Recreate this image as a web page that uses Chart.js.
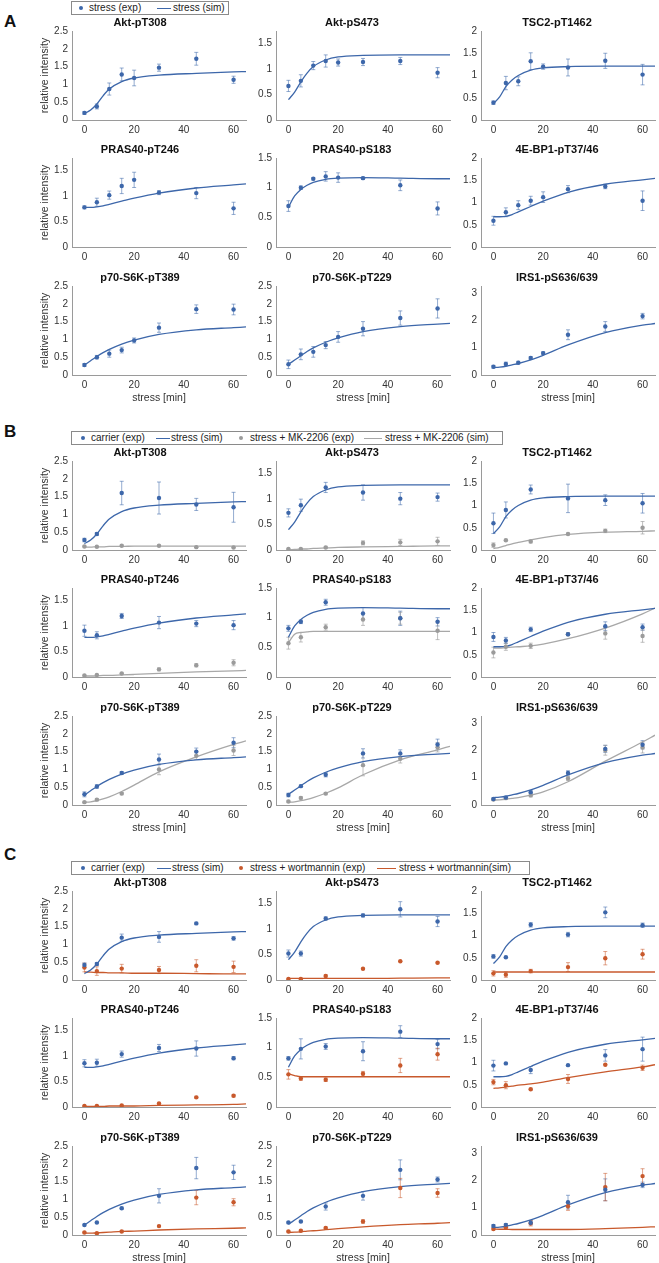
<!DOCTYPE html>
<html>
<head>
<meta charset="utf-8">
<script src="https://cdn.jsdelivr.net/npm/chart.js@4.4.1/dist/chart.umd.min.js"></script>
<style>
  body { margin: 0; background: #fff; width: 659px; height: 1263px; position: relative; overflow: hidden;
         font-family: "Liberation Sans", Arial, sans-serif; }
  .letter { position: absolute; left: 4px; font-weight: bold; font-size: 17px; line-height: 18px; color: #111; }
  .legend { position: absolute; left: 71px; height: 14px; border: 1px solid #8a8a8a; box-sizing: border-box;
            font-size: 10px; color: #222; background: #fff; }
  .legend span { position: absolute; white-space: nowrap; }
  .legend .txt { top: 0; line-height: 12px; }
  .legend .dot { top: 4px; width: 4px; height: 4px; border-radius: 50%; }
  .legend .ln { top: 6px; height: 0; border-top: 1.3px solid; }
</style>
</head>
<body>
<div class="letter" style="top:13px">A</div>
<div class="letter" style="top:423px">B</div>
<div class="letter" style="top:846px">C</div>
<script>
// time points (min)
const tExpA = [0, 5, 10, 15, 20, 30, 45, 60];
const tExpBC = [0, 5, 15, 30, 45, 60];
const tSim = [0, 2.5, 5, 7.5, 10, 15, 20, 30, 45, 60, 65];

const proteins = ['Akt-pT308', 'Akt-pS473', 'TSC2-pT1462', 'PRAS40-pT246', 'PRAS40-pS183',
                  '4E-BP1-pT37/46', 'p70-S6K-pT389', 'p70-S6K-pT229', 'IRS1-pS636/639'];
const yMax = [2.5, 1.75, 2, 1.75, 1.5, 2, 2.5, 2.5, 3.25];

// A: stress only
const stressExpA = [
  [0.2, 0.38, 0.87, 1.28, 1.18, 1.47, 1.72, 1.13],
  [0.67, 0.77, 1.07, 1.16, 1.13, 1.14, 1.16, 0.93],
  [0.39, 0.83, 0.87, 1.32, 1.2, 1.18, 1.33, 1.02],
  [0.78, 0.88, 1.02, 1.2, 1.32, 1.07, 1.06, 0.76],
  [0.69, 1.0, 1.15, 1.19, 1.17, 1.16, 1.04, 0.65],
  [0.59, 0.78, 0.94, 1.04, 1.12, 1.3, 1.36, 1.04],
  [0.28, 0.5, 0.6, 0.7, 0.97, 1.33, 1.85, 1.84],
  [0.3, 0.58, 0.65, 0.84, 1.07, 1.3, 1.6, 1.87],
  [0.3, 0.4, 0.45, 0.62, 0.8, 1.47, 1.77, 2.15]
];
const stressErrA = [
  [0.04, 0.07, 0.17, 0.18, 0.22, 0.1, 0.18, 0.1],
  [0.11, 0.12, 0.08, 0.12, 0.07, 0.07, 0.07, 0.1],
  [0.04, 0.15, 0.1, 0.19, 0.06, 0.19, 0.17, 0.23],
  [0.03, 0.08, 0.08, 0.15, 0.15, 0.04, 0.11, 0.12],
  [0.09, 0.03, 0.02, 0.08, 0.08, 0.02, 0.09, 0.11],
  [0.1, 0.1, 0.1, 0.1, 0.12, 0.08, 0.05, 0.22],
  [0.04, 0.05, 0.1, 0.08, 0.07, 0.13, 0.12, 0.15],
  [0.12, 0.15, 0.15, 0.1, 0.15, 0.2, 0.2, 0.27],
  [0.05, 0.07, 0.05, 0.05, 0.05, 0.18, 0.18, 0.1]
];
// simulated stress response (same model curve in A, B, C)
const simStress = [
  [0.18, 0.28, 0.45, 0.68, 0.87, 1.08, 1.18, 1.26, 1.31, 1.35, 1.36],
  [0.4, 0.55, 0.75, 0.92, 1.05, 1.18, 1.24, 1.27, 1.28, 1.28, 1.28],
  [0.37, 0.52, 0.75, 0.9, 1.0, 1.12, 1.17, 1.2, 1.21, 1.21, 1.21],
  [0.78, 0.78, 0.79, 0.81, 0.84, 0.9, 0.96, 1.06, 1.16, 1.22, 1.24],
  [0.67, 0.86, 0.97, 1.04, 1.09, 1.14, 1.16, 1.17, 1.16, 1.15, 1.15],
  [0.68, 0.68, 0.69, 0.73, 0.79, 0.91, 1.03, 1.23, 1.41, 1.51, 1.54],
  [0.28, 0.4, 0.52, 0.63, 0.72, 0.87, 0.98, 1.14, 1.27, 1.33, 1.35],
  [0.3, 0.42, 0.54, 0.66, 0.76, 0.92, 1.04, 1.22, 1.36, 1.43, 1.45],
  [0.27, 0.29, 0.32, 0.37, 0.42, 0.55, 0.72, 1.1, 1.55, 1.82, 1.88]
];

// B: carrier vs MK-2206
const carrierExpB = [
  [0.28, 0.45, 1.6, 1.46, 1.28, 1.2],
  [0.73, 0.88, 1.23, 1.13, 1.01, 1.04],
  [0.6, 0.9, 1.36, 1.16, 1.12, 1.05],
  [0.91, 0.82, 1.2, 1.07, 1.05, 1.02],
  [0.82, 0.93, 1.26, 1.07, 0.99, 0.93],
  [0.9, 0.82, 1.07, 0.96, 1.14, 1.12],
  [0.3, 0.52, 0.9, 1.28, 1.5, 1.75],
  [0.28, 0.53, 0.85, 1.45, 1.45, 1.7],
  [0.22, 0.27, 0.47, 1.17, 2.05, 2.2]
];
const carrierErrB = [
  [0.05, 0.04, 0.33, 0.45, 0.17, 0.42],
  [0.08, 0.12, 0.1, 0.15, 0.12, 0.08],
  [0.23, 0.18, 0.1, 0.32, 0.12, 0.22],
  [0.11, 0.07, 0.05, 0.12, 0.06, 0.09],
  [0.05, 0.03, 0.05, 0.1, 0.12, 0.07],
  [0.1, 0.07, 0.05, 0.03, 0.1, 0.07],
  [0.07, 0.05, 0.04, 0.15, 0.1, 0.14],
  [0.05, 0.03, 0.06, 0.13, 0.1, 0.15],
  [0.04, 0.05, 0.05, 0.08, 0.13, 0.15]
];
const mkExpB = [
  [0.1, 0.09, 0.12, 0.12, 0.08, 0.07],
  [0.02, 0.02, 0.05, 0.14, 0.15, 0.17],
  [0.11, 0.22, 0.19, 0.36, 0.43, 0.5],
  [0.03, 0.04, 0.07, 0.15, 0.23, 0.28],
  [0.57, 0.67, 0.84, 0.97, 0.99, 0.78],
  [0.55, 0.68, 0.7, 0.96, 0.98, 0.92],
  [0.08, 0.15, 0.32, 1.0, 1.38, 1.53],
  [0.1, 0.2, 0.32, 1.12, 1.3, 1.62],
  [0.2, 0.25, 0.35, 0.97, 2.0, 2.1]
];
const mkErrB = [
  [0.02, 0.01, 0.02, 0.02, 0.01, 0.01],
  [0.01, 0.01, 0.02, 0.04, 0.06, 0.08],
  [0.05, 0.02, 0.03, 0.02, 0.04, 0.14],
  [0.01, 0.01, 0.01, 0.03, 0.03, 0.06],
  [0.1, 0.08, 0.05, 0.1, 0.1, 0.15],
  [0.12, 0.08, 0.06, 0.03, 0.13, 0.14],
  [0.02, 0.03, 0.03, 0.15, 0.1, 0.14],
  [0.03, 0.03, 0.03, 0.3, 0.12, 0.13],
  [0.03, 0.05, 0.05, 0.07, 0.18, 0.2]
];
const simMK = [
  [0.08, 0.08, 0.09, 0.09, 0.1, 0.1, 0.11, 0.11, 0.11, 0.11, 0.11],
  [0.0, 0.01, 0.02, 0.02, 0.03, 0.04, 0.05, 0.06, 0.07, 0.08, 0.08],
  [0.03, 0.06, 0.1, 0.14, 0.17, 0.23, 0.28, 0.35, 0.4, 0.42, 0.43],
  [0.02, 0.02, 0.02, 0.03, 0.03, 0.04, 0.05, 0.07, 0.1, 0.12, 0.13],
  [0.58, 0.72, 0.75, 0.76, 0.77, 0.77, 0.77, 0.77, 0.77, 0.77, 0.77],
  [0.65, 0.65, 0.66, 0.67, 0.68, 0.7, 0.74, 0.86, 1.1, 1.42, 1.55],
  [0.08, 0.09, 0.12, 0.17, 0.23, 0.38, 0.56, 0.93, 1.35, 1.7, 1.8],
  [0.08, 0.09, 0.12, 0.16, 0.21, 0.33, 0.48, 0.85, 1.27, 1.55, 1.65],
  [0.18, 0.19, 0.21, 0.24, 0.27, 0.36, 0.48, 0.85, 1.6, 2.3, 2.55]
];

// C: carrier vs wortmannin
const carrierExpC = [
  [0.42, 0.45, 1.19, 1.21, 1.59, 1.17],
  [0.52, 0.52, 1.21, 1.27, 1.39, 1.15],
  [0.53, 0.51, 1.24, 1.02, 1.52, 1.23],
  [0.86, 0.87, 1.04, 1.16, 1.15, 0.96],
  [0.82, 0.98, 1.02, 0.94, 1.27, 1.06],
  [0.93, 0.98, 0.83, 0.94, 1.16, 1.3],
  [0.28, 0.35, 0.75, 1.1, 1.88, 1.76],
  [0.35, 0.38, 0.8, 1.1, 1.83, 1.56],
  [0.33, 0.37, 0.45, 1.2, 1.65, 1.83]
];
const carrierErrC = [
  [0.06, 0.04, 0.1, 0.15, 0.03, 0.05],
  [0.07, 0.05, 0.03, 0.03, 0.15, 0.1],
  [0.04, 0.02, 0.05, 0.05, 0.12, 0.05],
  [0.07, 0.07, 0.06, 0.07, 0.15, 0.03],
  [0.03, 0.17, 0.05, 0.16, 0.1, 0.08],
  [0.12, 0.02, 0.08, 0.01, 0.13, 0.27],
  [0.02, 0.02, 0.03, 0.2, 0.3, 0.2],
  [0.03, 0.03, 0.1, 0.12, 0.28, 0.07],
  [0.05, 0.05, 0.08, 0.25, 0.4, 0.1]
];
const wortExpC = [
  [0.35, 0.25, 0.32, 0.28, 0.4, 0.37],
  [0.02, 0.02, 0.08, 0.22, 0.37, 0.34],
  [0.15, 0.12, 0.2, 0.29, 0.49, 0.58],
  [0.02, 0.02, 0.03, 0.07, 0.19, 0.22],
  [0.55, 0.48, 0.46, 0.56, 0.7, 0.89],
  [0.56, 0.49, 0.4, 0.63, 0.95, 0.88],
  [0.07, 0.05, 0.1, 0.25, 1.05, 0.92],
  [0.1, 0.12, 0.2, 0.38, 1.32, 1.18],
  [0.22, 0.28, 0.43, 1.05, 1.75, 2.15]
];
const wortErrC = [
  [0.12, 0.12, 0.12, 0.1, 0.17, 0.16],
  [0.01, 0.01, 0.02, 0.01, 0.01, 0.01],
  [0.06, 0.06, 0.04, 0.1, 0.15, 0.11],
  [0.01, 0.01, 0.01, 0.01, 0.02, 0.02],
  [0.08, 0.03, 0.03, 0.04, 0.12, 0.1],
  [0.06, 0.08, 0.02, 0.1, 0.01, 0.06],
  [0.02, 0.02, 0.02, 0.02, 0.2, 0.1],
  [0.02, 0.02, 0.02, 0.05, 0.27, 0.12],
  [0.03, 0.05, 0.1, 0.15, 0.5, 0.27]
];
const simWort = [
  [0.22, 0.22, 0.21, 0.21, 0.2, 0.2, 0.19, 0.19, 0.18, 0.17, 0.17],
  [0.03, 0.03, 0.03, 0.03, 0.03, 0.03, 0.03, 0.03, 0.035, 0.04, 0.04],
  [0.18, 0.18, 0.18, 0.18, 0.18, 0.18, 0.18, 0.18, 0.18, 0.18, 0.18],
  [0.01, 0.01, 0.01, 0.01, 0.02, 0.02, 0.02, 0.03, 0.04, 0.05, 0.06],
  [0.56, 0.53, 0.51, 0.51, 0.51, 0.51, 0.51, 0.51, 0.51, 0.51, 0.51],
  [0.42, 0.43, 0.45, 0.47, 0.49, 0.52, 0.56, 0.66, 0.79, 0.9, 0.95],
  [0.05, 0.05, 0.06, 0.07, 0.08, 0.1, 0.11, 0.14, 0.17, 0.19, 0.2],
  [0.07, 0.08, 0.09, 0.11, 0.12, 0.15, 0.18, 0.23, 0.29, 0.33, 0.35],
  [0.22, 0.21, 0.21, 0.2, 0.2, 0.2, 0.2, 0.2, 0.23, 0.28, 0.3]
];

const BLUE = '#3d67aa', BLUE_ERR = 'rgba(61,103,170,0.55)';
const GRAY = '#9b9b9b', GRAY_LINE = '#a8a8a8', GRAY_ERR = 'rgba(150,150,150,0.6)';
const ORANGE = '#c8592c', ORANGE_ERR = 'rgba(200,89,44,0.55)';

Chart.defaults.font.family = '"Liberation Sans", Arial, sans-serif';

// error bars drawn with the chart's own scales
const errorBars = {
  id: 'errorBars',
  beforeDatasetsDraw(chart) {
    const { ctx, scales: { x, y } } = chart;
    chart.data.datasets.forEach(ds => {
      if (!ds.errors) return;
      ctx.save();
      ctx.strokeStyle = ds.errorColor;
      ctx.lineWidth = 1;
      ds.data.forEach((p, i) => {
        const e = ds.errors[i];
        const px = x.getPixelForValue(p.x);
        const y1 = y.getPixelForValue(p.y - e);
        const y2 = y.getPixelForValue(p.y + e);
        ctx.beginPath();
        ctx.moveTo(px, y1); ctx.lineTo(px, y2);
        ctx.moveTo(px - 2, y1); ctx.lineTo(px + 2, y1);
        ctx.moveTo(px - 2, y2); ctx.lineTo(px + 2, y2);
        ctx.stroke();
      });
      ctx.restore();
    });
  }
};

function pts(ts, vals) {
  return ts.map((t, i) => ({ x: t, y: vals[i] }));
}
function expSet(ts, vals, errs, color, errColor) {
  return { data: pts(ts, vals), errors: errs, errorColor: errColor, showLine: false,
           pointRadius: 2.2, pointBackgroundColor: color, pointBorderWidth: 0, order: 0 };
}
function simSet(vals, color) {
  return { data: pts(tSim, vals), showLine: true, pointRadius: 0, borderColor: color,
           borderWidth: 1.3, cubicInterpolationMode: 'monotone', order: 1 };
}

const secTop = [0, 430, 860];
const rowTop = [31, 158, 286];
const colLeft = [72, 276, 481];
const PLOT_W = 178, PLOT_H = 89, TITLE_H = 18;

function makePanel(sec, k, datasets) {
  const row = Math.floor(k / 3), col = k % 3;
  const bottomRow = row === 2;
  const plotTop = secTop[sec] + rowTop[row];
  const yw = col === 0 ? 42 : 26;
  const xh = bottomRow ? 29 : 16;
  const left = colLeft[col] - yw;
  const width = yw + PLOT_W;
  const height = TITLE_H + PLOT_H + xh;
  const canvas = document.createElement('canvas');
  canvas.width = width;
  canvas.height = height;
  canvas.style.cssText = `position:absolute;left:${left}px;top:${plotTop - TITLE_H}px;width:${width}px;height:${height}px`;
  document.body.appendChild(canvas);

  const tickFont = { size: 10 };
  new Chart(canvas, {
    type: 'scatter',
    data: { datasets },
    options: {
      responsive: false,
      animation: false,
      devicePixelRatio: 1,
      layout: { padding: 0 },
      plugins: {
        legend: { display: false },
        tooltip: { enabled: false },
        title: { display: true, text: proteins[k], color: '#111',
                 font: { size: 11, weight: 'bold', lineHeight: '13px' }, padding: { top: 3, bottom: 2 } }
      },
      scales: {
        x: {
          min: -5, max: 65,
          ticks: { stepSize: 20, includeBounds: false, padding: 4, color: '#333', font: tickFont, maxRotation: 0 },
          grid: { display: false, drawTicks: false },
          border: { color: '#9a9a9a' },
          title: { display: bottomRow, text: 'stress [min]', color: '#333', font: { size: 10.5 }, padding: { top: 2, bottom: 0 } },
          afterFit: s => { s.height = xh; }
        },
        y: {
          min: 0, max: yMax[k],
          ticks: { stepSize: 0.5, includeBounds: false, padding: 4, color: '#333', font: tickFont,
                   callback: v => String(v) },
          grid: { display: false, drawTicks: false },
          border: { color: '#9a9a9a' },
          title: { display: col === 0, text: 'relative intensity', color: '#333', font: { size: 10.5 }, padding: { top: 9, bottom: 0 } },
          afterFit: s => { s.width = yw; }
        }
      }
    },
    plugins: [errorBars]
  });
}

for (let k = 0; k < 9; k++) {
  makePanel(0, k, [
    expSet(tExpA, stressExpA[k], stressErrA[k], BLUE, BLUE_ERR),
    simSet(simStress[k], BLUE)
  ]);
  makePanel(1, k, [
    expSet(tExpBC, carrierExpB[k], carrierErrB[k], BLUE, BLUE_ERR),
    simSet(simStress[k], BLUE),
    expSet(tExpBC, mkExpB[k], mkErrB[k], GRAY, GRAY_ERR),
    simSet(simMK[k], GRAY_LINE)
  ]);
  makePanel(2, k, [
    expSet(tExpBC, carrierExpC[k], carrierErrC[k], BLUE, BLUE_ERR),
    simSet(simStress[k], BLUE),
    expSet(tExpBC, wortExpC[k], wortErrC[k], ORANGE, ORANGE_ERR),
    simSet(simWort[k], ORANGE)
  ]);
}

// legends (HTML, one per section)
function makeLegend(top, width, items) {
  const box = document.createElement('div');
  box.className = 'legend';
  box.style.top = top + 'px';
  box.style.width = width + 'px';
  items.forEach(it => {
    const m = document.createElement('span');
    if (it.kind === 'dot') {
      m.className = 'dot';
      m.style.left = (it.mx - 2) + 'px';
      m.style.background = it.color;
    } else {
      m.className = 'ln';
      m.style.left = it.mx + 'px';
      m.style.width = it.mw + 'px';
      m.style.borderColor = it.color;
    }
    box.appendChild(m);
    const t = document.createElement('span');
    t.className = 'txt';
    t.style.left = it.tx + 'px';
    t.textContent = it.label;
    box.appendChild(t);
  });
  document.body.appendChild(box);
}
makeLegend(1, 158, [
  { kind: 'dot', color: BLUE, mx: 9, tx: 17, label: 'stress (exp)' },
  { kind: 'line', color: BLUE, mx: 85, mw: 14, tx: 101, label: 'stress (sim)' }
]);
makeLegend(431, 432, [
  { kind: 'dot', color: BLUE, mx: 11, tx: 19, label: 'carrier (exp)' },
  { kind: 'line', color: BLUE, mx: 84, mw: 14, tx: 99, label: 'stress (sim)' },
  { kind: 'dot', color: GRAY, mx: 169, tx: 178, label: 'stress + MK-2206 (exp)' },
  { kind: 'line', color: GRAY_LINE, mx: 292, mw: 18, tx: 313, label: 'stress + MK-2206 (sim)' }
]);
makeLegend(861, 459, [
  { kind: 'dot', color: BLUE, mx: 11, tx: 19, label: 'carrier (exp)' },
  { kind: 'line', color: BLUE, mx: 85, mw: 14, tx: 100, label: 'stress (sim)' },
  { kind: 'dot', color: ORANGE, mx: 169, tx: 178, label: 'stress + wortmannin (exp)' },
  { kind: 'line', color: ORANGE, mx: 305, mw: 19, tx: 327, label: 'stress + wortmannin(sim)' }
]);
</script>
</body>
</html>
